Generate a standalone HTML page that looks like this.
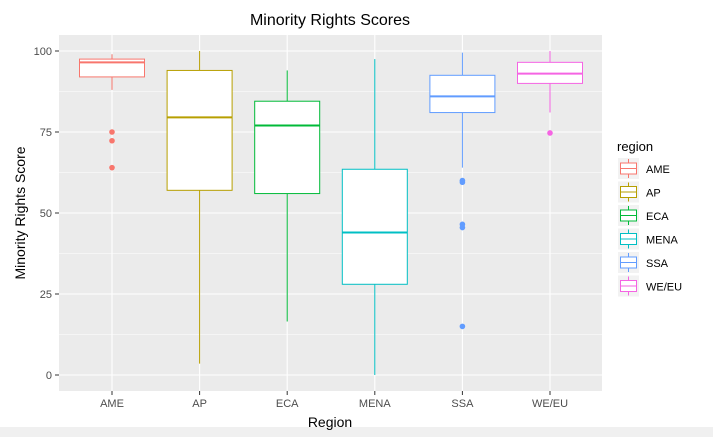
<!DOCTYPE html>
<html><head><meta charset="utf-8"><style>
body{margin:0;background:#fff;font-family:"Liberation Sans",sans-serif}
svg{display:block}
</style></head><body>
<svg width="713" height="437" id="chart">
<rect x="0" y="427" width="713" height="10" fill="#f0f0f0"/>
<text x="330" y="25" text-anchor="middle" font-size="16" fill="#000">Minority Rights Scores</text>
<rect x="59" y="35" width="543" height="356" fill="#ebebeb"/>
<g id="grid"></g><g id="boxes"></g><g id="axes"></g>
<text x="25" y="213" transform="rotate(-90 25 213)" text-anchor="middle" font-size="14" fill="#000">Minority Rights Score</text>
<text x="330" y="427" text-anchor="middle" font-size="14" fill="#000">Region</text>
<g id="legend"></g>
</svg>
<script>
const categories=["AME","AP","ECA","MENA","SSA","WE/EU"];
const colors=["#F8766D","#B79F00","#00BA38","#00BFC4","#619CFF","#F564E3"];
const whiskerLow=[88,3.5,16.5,0,64,81];
const q1=[92,57,56,28,81,90];
const medians=[96.5,79.5,77,44,86,93];
const q3=[97.5,94,84.5,63.5,92.5,96.5];
const whiskerHigh=[99,100,94,97.5,99.5,100];
const outliers=[[75,72.3,64],[],[],[],[60,59.5,46.5,45.5,15],[74.7]];
const yTicks=[0,25,50,75,100];
const NS="http://www.w3.org/2000/svg";
function y(v){return 375-v*3.24;}
function x(i){return 112+i*87.6;}
function mk(p,t,a){const e=document.createElementNS(NS,t);for(const k in a)e.setAttribute(k,a[k]);p.appendChild(e);return e;}
const grid=document.getElementById('grid'),boxes=document.getElementById('boxes'),axes=document.getElementById('axes'),legend=document.getElementById('legend');
for(let k=0;k<yTicks.length;k++){
 const v=yTicks[k];
 const g=mk(grid,'line',{x1:59,x2:602,y1:y(v),y2:y(v),stroke:'#fff','stroke-width':1.1});
 
 
 if(k<yTicks.length-1){const m=mk(grid,'line',{x1:59,x2:602,y1:y(v+12.5),y2:y(v+12.5),stroke:'#fff','stroke-width':0.5});
 
 }
 mk(axes,'line',{x1:55,x2:59,y1:y(v),y2:y(v),stroke:'#333'});
 const t=mk(axes,'text',{x:52,y:y(v)+4,'text-anchor':'end','font-size':11,fill:'#4d4d4d'});t.textContent=v;
 
 
}
categories.forEach((c,i)=>{
 const gx=mk(grid,'line',{x1:x(i),x2:x(i),y1:35,y2:391,stroke:'#fff','stroke-width':1.1});
 
 
 mk(axes,'line',{x1:x(i),x2:x(i),y1:391,y2:395,stroke:'#333'});
 const t=mk(axes,'text',{x:x(i),y:407,'text-anchor':'middle','font-size':11,fill:'#4d4d4d'});t.textContent=c;
 
 
 const col=colors[i],w=65;
 const g=mk(boxes,'g',{});
 
 
 mk(g,'line',{x1:x(i),x2:x(i),y1:y(whiskerLow[i]),y2:y(q1[i]),stroke:col});
 mk(g,'line',{x1:x(i),x2:x(i),y1:y(q3[i]),y2:y(whiskerHigh[i]),stroke:col});
 mk(g,'rect',{x:x(i)-w/2,y:y(q3[i]),width:w,height:y(q1[i])-y(q3[i]),fill:'#fff',stroke:col});
 mk(g,'line',{x1:x(i)-w/2,x2:x(i)+w/2,y1:y(medians[i]),y2:y(medians[i]),stroke:col,'stroke-width':2});
 outliers[i].forEach(o=>{const p=mk(g,'circle',{cx:x(i),cy:y(o),r:2.8,fill:col});
  
  });
 const ly=158+i*23.5;
 const lg=mk(legend,'g',{});
 
 
 mk(lg,'rect',{x:618,y:ly,width:21,height:21,fill:'#f2f2f2'});
 mk(lg,'line',{x1:628.5,x2:628.5,y1:ly+1,y2:ly+20,stroke:col});
 mk(lg,'rect',{x:620.5,y:ly+5,width:16,height:11,fill:'#fff',stroke:col});
 mk(lg,'line',{x1:620.5,x2:636.5,y1:ly+10.5,y2:ly+10.5,stroke:col});
 const lt=mk(lg,'text',{x:646,y:ly+15,'font-size':11,fill:'#000'});lt.textContent=c;
});
const lt=mk(legend,'text',{x:617,y:151,'font-size':13,fill:'#000'});lt.textContent='region';


</script>
</body></html>
